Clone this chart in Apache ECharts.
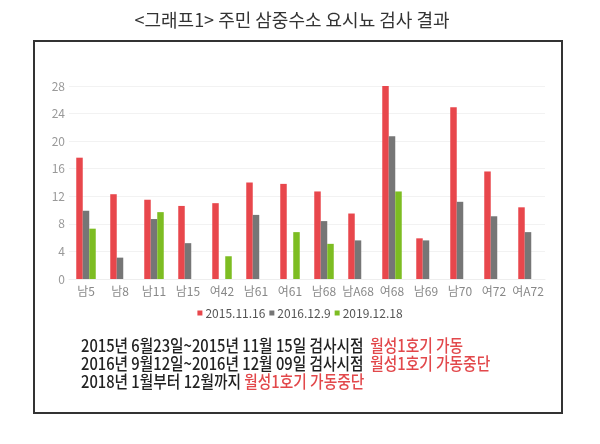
<!DOCTYPE html>
<html>
<head>
<meta charset="utf-8">
<script src="https://cdn.jsdelivr.net/npm/echarts@6/dist/echarts.min.js"></script>
<style>
html,body{margin:0;padding:0;background:#fff;}
#chart{width:600px;height:444px;}
</style>
</head>
<body>
<div id="chart"></div>
<script>
var categories = ['남5','남8','남11','남15','여42','남61','여61','남68','남A68','여68','남69','남70','여72','여A72'];
var seriesNames = ['2015.11.16','2016.12.9','2019.12.18'];
var s2015 = [17.6, 12.3, 11.5, 10.6, 11.0, 14.0, 13.8, 12.7, 9.5, 28.2, 5.9, 24.9, 15.6, 10.4];
var s2016 = [9.9, 3.1, 8.7, 5.2, null, 9.3, null, 8.4, 5.6, 20.7, 5.6, 11.2, 9.1, 6.8];
var s2019 = [7.3, null, 9.7, null, 3.3, null, 6.8, 5.1, null, 12.7, null, null, null, null];
var yTicks = [0, 4, 8, 12, 16, 20, 24, 28];
var titleText = '<그래프1> 주민 삼중수소 요시뇨 검사 결과';
var notes = [
  ['2015년 6월23일~2015년 11월 15일 검사시점  ', '월성1호기 가동'],
  ['2016년 9월12일~2016년 12월 09일 검사시점  ', '월성1호기 가동중단'],
  ['2018년 1월부터 12월까지 ', '월성1호기 가동중단']
];

var colors = ['#e8474c', '#767676', '#7dbd22'];
var font = '"Noto Sans CJK KR", "Noto Sans", sans-serif';
var chart = echarts.init(document.getElementById('chart'), null, {renderer: 'canvas'});

var series = [s2015, s2016, s2019].map(function (d, i) {
  return {
    name: seriesNames[i],
    type: 'bar',
    data: d,
    barWidth: 6.5,
    barGap: '0%',
    itemStyle: {color: colors[i]}
  };
});

var noteGraphics = notes.map(function (n, i) {
  return {
    type: 'text',
    x: 81,
    y: 346 + i * 18,
    scaleX: 0.865,
    style: {
      text: '{a|' + n[0] + '}{b|' + n[1] + '}',
      verticalAlign: 'middle',
      rich: {
        a: {fill: '#222', font: '500 17px ' + font},
        b: {fill: '#e2484b', font: '500 17px ' + font}
      }
    }
  };
});

chart.setOption({
  animation: false,
  backgroundColor: '#fff',
  textStyle: {fontFamily: font},
  grid: {left: 69, right: 55, top: 86, height: 193},
  legend: {
    top: 302,
    left: 'center',
    itemWidth: 5,
    itemHeight: 5,
    itemGap: 4,
    icon: 'rect',
    textStyle: {color: '#555', fontSize: 12, fontFamily: font, padding: [0, 0, 0, -2]},
    data: seriesNames
  },
  xAxis: {
    type: 'category',
    data: categories,
    axisLine: {show: true, lineStyle: {color: '#eeeeee'}},
    axisTick: {show: false},
    axisLabel: {color: '#888', fontSize: 12, margin: 6, interval: 0, fontFamily: font}
  },
  yAxis: {
    type: 'value',
    min: 0,
    max: 28,
    interval: 4,
    axisLine: {show: false},
    axisTick: {show: false},
    splitLine: {lineStyle: {color: '#f2f2f2'}},
    axisLabel: {color: '#999', fontSize: 12, margin: 4, fontFamily: font,
      formatter: function (v) { return yTicks.indexOf(v) >= 0 ? String(v) : ''; }}
  },
  series: series,
  graphic: [
    {
      type: 'rect',
      shape: {x: 34, y: 41, width: 528, height: 372},
      style: {fill: 'none', stroke: '#333', lineWidth: 2},
      z: 10
    },
    {
      type: 'text',
      x: 292,
      y: 20,
      style: {text: titleText, fill: '#333', font: '18px ' + font, align: 'center', verticalAlign: 'middle'}
    }
  ].concat(noteGraphics)
});
</script>
</body>
</html>
